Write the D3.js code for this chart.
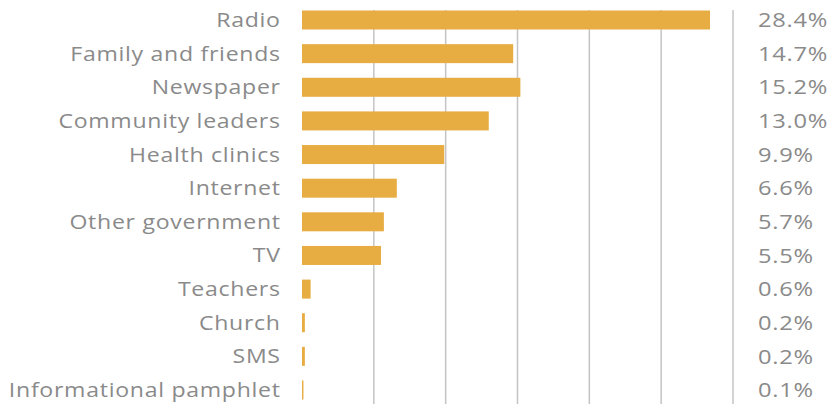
<!DOCTYPE html>
<html><head><meta charset="utf-8">
<script src="https://cdn.jsdelivr.net/npm/d3@7"></script>
<style>body{margin:0;background:#fff}svg{display:block}</style>
</head><body>
<script>
const categories = ["Radio","Family and friends","Newspaper","Community leaders","Health clinics","Internet","Other government","TV","Teachers","Church","SMS","Informational pamphlet"];
const values = [28.4,14.7,15.2,13.0,9.9,6.6,5.7,5.5,0.6,0.2,0.2,0.1];
const valueLabels = ["28.4%","14.7%","15.2%","13.0%","9.9%","6.6%","5.7%","5.5%","0.6%","0.2%","0.2%","0.1%"];
const gridTicks = [5,10,15,20,25];

const W=829,H=404;
const svg=d3.select("body").append("svg").attr("width",W).attr("height",H);
const x=d3.scaleLinear().domain([0,30]).range([302,733]);
const y=d3.scalePoint().domain(categories).range([20,390]);
const barH=19;
const font="'Open Sans',sans-serif";
const ls=0.6;

svg.selectAll("line.grid").data(gridTicks).join("line")
  .attr("x1",d=>x(d)).attr("x2",d=>x(d)).attr("y1",10).attr("y2",H)
  .attr("stroke","#c4c4c4").attr("stroke-width",1.5);
svg.append("line").attr("x1",x(30)).attr("x2",x(30)).attr("y1",10).attr("y2",H)
  .attr("stroke","#c4c4c4").attr("stroke-width",1.5);

svg.selectAll("rect.bar").data(values).join("rect")
  .attr("x",x(0)).attr("y",(d,i)=>y(categories[i])-barH/2)
  .attr("width",d=>x(d)-x(0)).attr("height",barH).attr("fill","#E8AD42");

const catG=svg.selectAll("g.cat").data(categories).join("g").attr("class","cat");
const cat=catG.append("text").attr("x",ls).attr("y",0).attr("dy","0.36em").attr("text-anchor","end")
  .attr("letter-spacing",ls+"px")
  .attr("font-family",font).attr("font-size",19.5).attr("fill","#8a8a8a").text(d=>d);

const valG=svg.selectAll("g.val").data(valueLabels).join("g").attr("class","val");
const val=valG.append("text").attr("x",0).attr("y",0).attr("dy","0.36em")
  .attr("letter-spacing",ls+"px")
  .attr("font-family",font).attr("font-size",20).attr("fill","#8a8a8a").text(d=>d);

// the original face is a wide geometric sans: stretch horizontally to match its widths
const sCat=272/cat.nodes()[11].getComputedTextLength();
catG.attr("transform",d=>`translate(280,${y(d)}) scale(${sCat},1)`);
valG.attr("transform",(d,i)=>`translate(758,${y(categories[i])}) scale(${sCat},1)`);
</script>
</body></html>
